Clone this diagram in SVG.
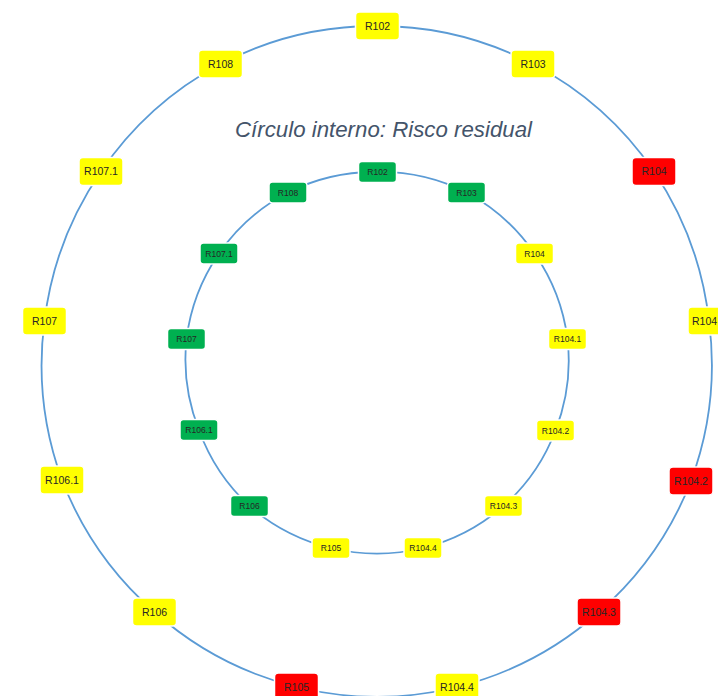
<svg xmlns="http://www.w3.org/2000/svg" width="718" height="696" viewBox="0 0 718 696">
<style>
.arc{fill:none;stroke:#5B9BD5;stroke-width:1.8}
.ob{stroke:#fff;stroke-width:1.5}
.y{fill:#FFFF00}.r{fill:#FF0000}.g{fill:#00B050}
.ot{font-family:"Liberation Sans",Arial,sans-serif;font-size:10.5px;fill:#262626;text-anchor:middle}
.it{font-family:"Liberation Sans",Arial,sans-serif;font-size:8.5px;fill:#262626;text-anchor:middle}
.title{font-family:"Liberation Sans",Arial,sans-serif;font-style:italic;font-size:22.5px;fill:#44546A}
</style>
<defs>
<rect id="obox" x="-22" y="-14" width="44" height="28" rx="4"/>
<rect id="ibox" x="-19" y="-10.5" width="38" height="21" rx="3.5"/>
</defs>
<rect width="718" height="696" fill="#fff"/>
<g id="connectors">
<path class="arc" d="M377,26 A335,335 0 0 1 533,64 A335,335 0 0 1 654,171.5 A335,335 0 0 1 709,321 A335,335 0 0 1 691,481 A335,335 0 0 1 599,612 A335,335 0 0 1 457,687 A335,335 0 0 1 297,687 A335,335 0 0 1 154.5,612 A335,335 0 0 1 62,480 A335,335 0 0 1 44.5,321 A335,335 0 0 1 101,171.5 A335,335 0 0 1 220.5,64 A335,335 0 0 1 377,26"/>
<path class="arc" d="M377,172 A191.5,191.5 0 0 1 466.5,192.5 A191.5,191.5 0 0 1 534.5,253.5 A191.5,191.5 0 0 1 567.5,339 A191.5,191.5 0 0 1 555.5,430.5 A191.5,191.5 0 0 1 503.5,506 A191.5,191.5 0 0 1 423,548 A191.5,191.5 0 0 1 331,548 A191.5,191.5 0 0 1 249.5,506 A191.5,191.5 0 0 1 199,430 A191.5,191.5 0 0 1 186.5,339 A191.5,191.5 0 0 1 219,253.5 A191.5,191.5 0 0 1 288,192.5 A191.5,191.5 0 0 1 377,172"/>
</g>
<text id="title" class="title" x="235" y="137" textLength="297" lengthAdjust="spacingAndGlyphs">Círculo interno: Risco residual</text>
<g id="outer-R102" transform="translate(377.5,26)"><use href="#obox" class="ob y"/><text class="ot" y="3.7">R102</text></g>
<g id="outer-R103" transform="translate(533,64)"><use href="#obox" class="ob y"/><text class="ot" y="3.7">R103</text></g>
<g id="outer-R104" transform="translate(654,171.5)"><use href="#obox" class="ob r"/><text class="ot" y="3.7">R104</text></g>
<g id="outer-R104-1" transform="translate(710,321)"><use href="#obox" class="ob y"/><text class="ot" x="-18" y="3.7" style="text-anchor:start">R104</text></g>
<g id="outer-R104-2" transform="translate(691,481)"><use href="#obox" class="ob r"/><text class="ot" y="3.7">R104.2</text></g>
<g id="outer-R104-3" transform="translate(599,612)"><use href="#obox" class="ob r"/><text class="ot" y="3.7">R104.3</text></g>
<g id="outer-R104-4" transform="translate(457,687)"><use href="#obox" class="ob y"/><text class="ot" y="3.7">R104.4</text></g>
<g id="outer-R105" transform="translate(296.5,687)"><use href="#obox" class="ob r"/><text class="ot" y="3.7">R105</text></g>
<g id="outer-R106" transform="translate(154.5,612)"><use href="#obox" class="ob y"/><text class="ot" y="3.7">R106</text></g>
<g id="outer-R106-1" transform="translate(62,480)"><use href="#obox" class="ob y"/><text class="ot" y="3.7">R106.1</text></g>
<g id="outer-R107" transform="translate(44.5,321)"><use href="#obox" class="ob y"/><text class="ot" y="3.7">R107</text></g>
<g id="outer-R107-1" transform="translate(101,171.5)"><use href="#obox" class="ob y"/><text class="ot" y="3.7">R107.1</text></g>
<g id="outer-R108" transform="translate(220.5,64)"><use href="#obox" class="ob y"/><text class="ot" y="3.7">R108</text></g>
<g id="inner-R102" transform="translate(377.5,172)"><use href="#ibox" class="ob g"/><text class="it" y="3">R102</text></g>
<g id="inner-R103" transform="translate(466.5,192.5)"><use href="#ibox" class="ob g"/><text class="it" y="3">R103</text></g>
<g id="inner-R104" transform="translate(534.5,253.5)"><use href="#ibox" class="ob y"/><text class="it" y="3">R104</text></g>
<g id="inner-R104-1" transform="translate(567.5,339)"><use href="#ibox" class="ob y"/><text class="it" y="3">R104.1</text></g>
<g id="inner-R104-2" transform="translate(555.5,430.5)"><use href="#ibox" class="ob y"/><text class="it" y="3">R104.2</text></g>
<g id="inner-R104-3" transform="translate(503.5,506)"><use href="#ibox" class="ob y"/><text class="it" y="3">R104.3</text></g>
<g id="inner-R104-4" transform="translate(423,548)"><use href="#ibox" class="ob y"/><text class="it" y="3">R104.4</text></g>
<g id="inner-R105" transform="translate(331,548)"><use href="#ibox" class="ob y"/><text class="it" y="3">R105</text></g>
<g id="inner-R106" transform="translate(249.5,506)"><use href="#ibox" class="ob g"/><text class="it" y="3">R106</text></g>
<g id="inner-R106-1" transform="translate(199,430)"><use href="#ibox" class="ob g"/><text class="it" y="3">R106.1</text></g>
<g id="inner-R107" transform="translate(186.5,339)"><use href="#ibox" class="ob g"/><text class="it" y="3">R107</text></g>
<g id="inner-R107-1" transform="translate(219,253.5)"><use href="#ibox" class="ob g"/><text class="it" y="3">R107.1</text></g>
<g id="inner-R108" transform="translate(288,192.5)"><use href="#ibox" class="ob g"/><text class="it" y="3">R108</text></g>
</svg>
